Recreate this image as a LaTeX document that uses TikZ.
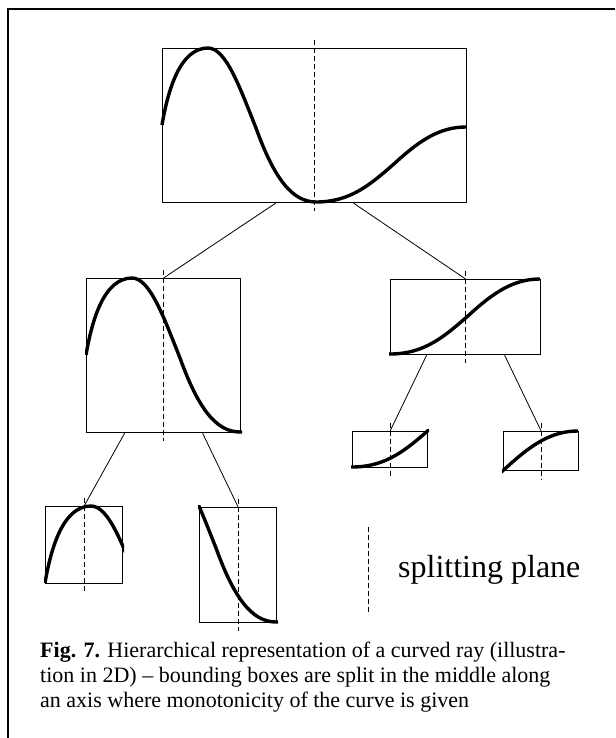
\documentclass[tikz,border=0pt]{standalone}
\usepackage{fontspec}
\setmainfont{Liberation Serif}
\usetikzlibrary{calc}

% the ray, in the coordinates of the top box
\newcommand{\raycurve}{(162,125) .. controls (168,90) and (180,48) .. (208,48)
  .. controls (226,48) and (240,88) .. (256,128)
  .. controls (274,178) and (292,202) .. (316,202)
  .. controls (350,202) and (370,185) .. (395,163)
  .. controls (420,140) and (440,127) .. (466,127)}
% piece of the ray inside a box: #1 box, #2 #3 shift
\newcommand{\raypiece}[3]{%
  \begin{scope}
    \clip ($(#1.north west)+(-1,-2)$) rectangle ($(#1.south east)+(1,2)$);
    \draw[ray, shift={(#2,#3)}] \raycurve;
  \end{scope}}

\begin{document}
\begin{tikzpicture}[x=1pt, y=-1pt,
  bbox/.style={draw, line width=1.2pt, inner sep=0pt, anchor=north west},
  ray/.style={line width=3.4pt},
  split/.style={dash pattern=on 5pt off 3pt, line width=0.9pt},
  link/.style={line width=0.8pt}]
  \useasboundingbox (0,0) rectangle (615,738);
  \draw[line width=2pt] (615,9) -- (8,9) -- (8,738);

  % boxes
  \node[bbox, minimum width=304pt, minimum height=154pt] (root) at (162,48) {};
  \node[bbox, minimum width=154pt, minimum height=154pt] (lft) at (86,278) {};
  \node[bbox, minimum width=150pt, minimum height=75pt] (rgt) at (390,279) {};
  \node[bbox, minimum width=77pt, minimum height=77pt] (lftlft) at (45,506) {};
  \node[bbox, minimum width=77pt, minimum height=115pt] (lftrgt) at (199,507) {};
  \node[bbox, minimum width=75pt, minimum height=36pt] (rgtlft) at (352,431) {};
  \node[bbox, minimum width=75pt, minimum height=39pt] (rgtrgt) at (503,431) {};

  % curve pieces
  \draw[ray] \raycurve;
  \raypiece{lft}{-76}{230}
  \raypiece{rgt}{74}{152}
  \raypiece{lftlft}{-117}{458}
  \raypiece{lftrgt}{-40}{420}
  \raypiece{rgtlft}{36}{265}
  \raypiece{rgtrgt}{112}{304}

  % splitting planes
  \foreach \b in {root,lft,rgt,lftlft,lftrgt,rgtlft,rgtrgt}
    \draw[split] ($(\b.north)+(0,-8)$) -- ($(\b.south)+(0,8)$);

  % tree
  \draw[link] ($(root.south)+(-39,0)$) -- (lft.north);
  \draw[link] ($(root.south)+(39,0)$) -- (rgt.north);
  \draw[link] ($(lft.south)+(-39,0)$) -- (lftlft.north);
  \draw[link] ($(lft.south)+(39,0)$) -- (lftrgt.north);
  \draw[link] ($(rgt.south)+(-39,0)$) -- (rgtlft.north);
  \draw[link] ($(rgt.south)+(39,0)$) -- (rgtrgt.north);

  % legend
  \draw[split] (368,527) -- (368,615);
  \node[anchor=base west, inner sep=0pt, font=\fontsize{32}{38}\selectfont] (legend) at (398,577) {splitting plane};

  % caption
  \node[anchor=north west, align=left, inner sep=0pt, font=\fontsize{22}{25}\selectfont] (caption) at (40,642)
    {\textbf{Fig. 7.} Hierarchical representation of a curved ray (illustra-\\
     tion in 2D) -- bounding boxes are split in the middle along\\
     an axis where monotonicity of the curve is given};
\end{tikzpicture}
\end{document}
